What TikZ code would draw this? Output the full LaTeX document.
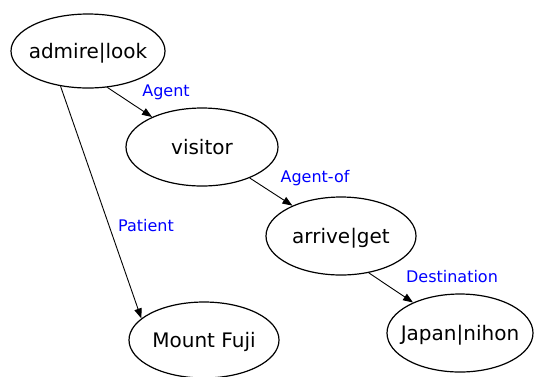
\documentclass[tikz,border=0pt]{standalone}
\usepackage{fontspec}
\setmainfont{DejaVu Sans}
\usetikzlibrary{shapes.geometric,arrows.meta}
\newcommand{\zerobox}[1]{\smash{\makebox[0pt]{\raisebox{-0.36em}{#1}}}}
\begin{document}
\begin{tikzpicture}[x=1pt,y=-1pt,
  concept/.style={draw,ellipse,line width=1.2pt,inner sep=0pt,font=\fontsize{20}{22}\selectfont},
  rel/.style={-{Triangle[length=10pt,width=7.5pt]},line width=0.9pt},
  lab/.style={text=blue,font=\fontsize{16}{18}\selectfont,inner sep=0pt}]
\useasboundingbox (0,0) rectangle (534,376);
\node[concept,minimum width=154pt,minimum height=74pt] (admire) at (88,51) {\zerobox{admire|look}};
\node[concept,minimum width=152pt,minimum height=78pt] (visitor) at (202,147) {\zerobox{visitor}};
\node[concept,minimum width=150pt,minimum height=78pt] (arrive) at (341,236) {\zerobox{arrive|get}};
\node[concept,minimum width=146pt,minimum height=78pt] (japan) at (460,333) {\zerobox{Japan|nihon}};
\node[concept,minimum width=150pt,minimum height=76pt] (fuji) at (204,340) {\zerobox{Mount Fuji}};
\draw[rel] (admire.-62.8) -- (visitor.149);
\draw[rel] (admire.232.4) -- (fuji.161);
\draw[rel] (visitor.-33.1) -- (arrive.148.7);
\draw[rel] (arrive.-53.9) -- (japan.147.1);
\node[lab] (lagent) at (166,92) {Agent};
\node[lab] (lpatient) at (146,226) {Patient};
\node[lab] (lagentof) at (315,178) {Agent-of};
\node[lab] (ldest) at (452,277) {Destination};
\end{tikzpicture}
\end{document}
